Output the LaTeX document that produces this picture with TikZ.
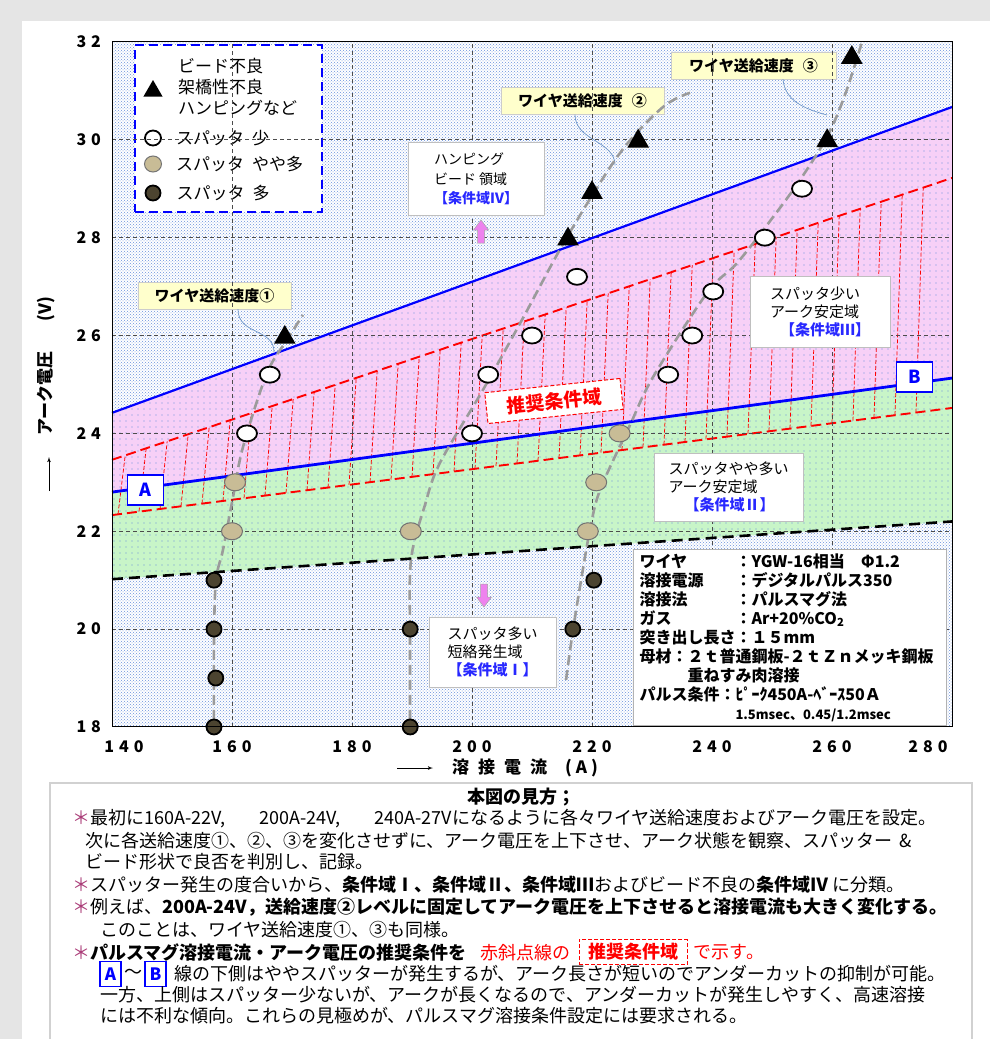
\documentclass[tikz,border=0pt]{standalone}
\usepackage{fontspec}
\setmainfont{Noto Sans CJK JP}
\usepackage{tikz}
\usetikzlibrary{shapes,arrows,positioning,patterns}

\definecolor{pinkzone}{RGB}{247,208,247}
\definecolor{greenzone}{RGB}{200,245,200}
\definecolor{dotblue}{RGB}{105,145,220}
\definecolor{tanfill}{RGB}{200,188,150}
\definecolor{darkfill}{RGB}{76,68,48}
\definecolor{callfill}{RGB}{255,255,204}
\definecolor{callblue}{RGB}{110,150,200}
\definecolor{arrowpink}{RGB}{238,130,238}
\definecolor{starmark}{RGB}{170,60,120}
\definecolor{curvegray}{RGB}{155,155,155}
\definecolor{tagblue}{RGB}{40,40,255}

\pgfdeclarepatternformonly{sparsedots}{\pgfqpoint{-1pt}{-1pt}}{\pgfqpoint{1pt}{1pt}}{\pgfqpoint{6pt}{6pt}}%
  {\pgfpathcircle{\pgfqpoint{0pt}{0pt}}{0.6pt}\pgfusepath{fill}}

\newcommand{\zonetag}[1]{{\color{tagblue}\bfseries #1}}
\newcommand{\starmk}{\textcolor{starmark}{＊}}
\newcommand{\gap}{\hspace{5pt}}

\begin{document}
\begin{tikzpicture}[x=1pt,y=-1pt,>=latex',
  gridline/.style={black!70,line width=0.7pt,dash pattern=on 4pt off 3pt},
  zoneline/.style={blue,line width=2.2pt},
  recline/.style={red,line width=1.9pt,dash pattern=on 10pt off 5pt},
  hatchline/.style={red,line width=0.75pt,dash pattern=on 4pt off 2pt},
  limitline/.style={black,line width=2.6pt,dash pattern=on 11pt off 6pt},
  wirecurve/.style={curvegray,line width=2.6pt,dash pattern=on 10pt off 5pt},
  callbox/.style={draw=black!20,fill=callfill,minimum height=27pt,inner sep=0pt,font=\fontsize{15}{18}\selectfont\bfseries},
  callline/.style={callblue,line width=0.7pt},
  zonebox/.style={draw=black!25,line width=1pt,fill=white,align=left,inner sep=0pt,font=\fontsize{15}{18}\selectfont},
  spatlow/.style={ellipse,draw=black,line width=1.8pt,fill=white,minimum width=20pt,minimum height=16pt,inner sep=0pt},
  spatmid/.style={ellipse,draw=black!55,line width=1pt,fill=tanfill,minimum width=21pt,minimum height=17pt,inner sep=0pt},
  spathigh/.style={circle,draw=black,line width=1.8pt,fill=darkfill,minimum size=15pt,inner sep=0pt},
  badbead/.style={regular polygon,regular polygon sides=3,fill=black,minimum size=25pt,inner sep=0pt},
  keybox/.style={draw=blue,line width=1.8pt,fill=white,text=blue,font=\fontsize{18}{18}\selectfont\bfseries,minimum width=36pt,minimum height=30pt,inner sep=0pt},
  keysmall/.style={draw=blue,line width=1.6pt,fill=white,text=blue,font=\fontsize{17}{17}\selectfont\bfseries,minimum width=21pt,minimum height=25pt,inner sep=0pt},
  ticklab/.style={font=\fontsize{16}{16}\selectfont\bfseries,inner sep=0pt},
  legtext/.style={anchor=west,align=left,inner sep=0pt,font=\fontsize{17}{21}\selectfont},
  note/.style={anchor=west,inner sep=0pt,font=\fontsize{18}{21}\selectfont}]

\useasboundingbox (0,0) rectangle (990,1039);
\fill[black!10] (0,0) rectangle (990,1039);
\fill[white] (22,21) rectangle (990,1039);

% zones of the chart (A in amperes, V in volts)
\begin{scope}[shift={(-728pt,-1607.7pt)},x=6pt,y=48.93pt]
  \coordinate (ub0) at (140,24.42); \coordinate (ub1) at (280,30.67);
  \coordinate (lb0) at (140,22.8);  \coordinate (lb1) at (280,25.13);
  \coordinate (kd0) at (140,21.02); \coordinate (kd1) at (280,22.2);
  \coordinate (ru0) at (140,23.46); \coordinate (ru1) at (280,29.22);
  \coordinate (rl0) at (140,22.33); \coordinate (rl1) at (280,24.52);
  \fill[white] (140,18) rectangle (280,32);
  \fill[pattern=crosshatch dots,pattern color=dotblue] (140,18) rectangle (280,32);
  \fill[pinkzone] (ub0) -- (ub1) -- (lb1) -- (lb0) -- cycle;
  \fill[greenzone] (lb0) -- (lb1) -- (kd1) -- (kd0) -- cycle;
  \fill[pattern=sparsedots,pattern color=dotblue] (ub0) -- (ub1) -- (kd1) -- (kd0) -- cycle;
  % hatching of the recommended zone
  \foreach \cur in {141,144.5,...,277}
    \draw[hatchline] (\cur,{22.33+(\cur-140)*0.015643}) -- ({\cur+1.2},{23.46+(\cur-138.8)*0.041143});
  \draw[recline] (rl0) -- (rl1);
  \draw[recline] (ru0) -- (ru1);
\end{scope}

% legend
\node[draw=blue,line width=2pt,dash pattern=on 9pt off 5pt,fill=white,minimum width=187pt,minimum height=167pt] (legend) at (228.5,128.5) {};
\node[badbead,minimum size=22pt] (legbad) at (153,91) {};
\node[legtext] (legbadtxt) at (178,87) {ビード不良\\架橋性不良\\ハンピングなど};
\node[spatlow,minimum width=16pt,minimum height=15pt] (leglow) at (153,138) {};
\node[legtext,right=14pt of leglow] (leglowtxt) {スパッタ\hspace{8pt}少};
\node[spatmid,minimum width=17pt,minimum height=16pt] (legmid) at (153,164) {};
\node[legtext,right=14pt of legmid] (legmidtxt) {スパッタ\hspace{8pt}やや多};
\node[spathigh] (leghigh) at (153,193) {};
\node[legtext,right=15pt of leghigh] (leghightxt) {スパッタ\hspace{8pt}多};

% wire feed speed callouts
\node[callbox,minimum width=153pt] (wsp1) at (214.5,295.5) {ワイヤ送給速度①};
\node[callbox,minimum width=163pt] (wsp2) at (582.5,101) {ワイヤ送給速度\hspace{9pt}②};
\node[callbox,minimum width=165pt] (wsp3) at (753.5,65.5) {ワイヤ送給速度\hspace{9pt}③};
\coordinate (wtip1) at (274,352);
\coordinate (wtip2) at (615,165);
\coordinate (wtip3) at (827,115);
\draw[callline] ([xshift=23.5pt]wsp1.south) .. controls +(0,26) and +(0,-24) .. (wtip1);
\draw[callline] ([xshift=-7.5pt]wsp2.south) .. controls +(0,26) and +(0,-24) .. (wtip2);
\draw[callline] ([xshift=29.5pt]wsp3.south) .. controls +(2,22) and +(-22,-6) .. (wtip3);

\begin{scope}[shift={(-728pt,-1607.7pt)},x=6pt,y=48.93pt]
  % grid
  \foreach \cur in {160,180,...,260}
    \draw[gridline] (\cur,18) -- (\cur,32);
  \foreach \cur in {20,22,...,30}
    \draw[gridline] (140,\cur) -- (280,\cur);
  \draw[zoneline] (ub0) -- (ub1);
  \draw[zoneline,line width=2.8pt] (lb0) -- (lb1);
  \draw[limitline] (kd0) -- (kd1);
  % wire feed speeds 1, 2, 3
  \draw[wirecurve] plot[smooth,tension=0.55] coordinates {(157,17.84) (157,19.78) (157.33,21.0) (158.5,21.62) (160.17,22.7) (161.83,23.72) (165.83,25.23) (169.17,25.91) (171.83,26.42)};
  \draw[wirecurve] plot[smooth,tension=0.55] coordinates {(189.67,17.84) (189.67,19.78) (189.83,21.41) (192.17,22.54) (194.67,23.4) (201.83,24.89) (208.33,26.32) (215.83,28.01) (224.67,29.73) (231.83,30.67) (236.33,30.96)};
  \draw[wirecurve] plot[smooth,tension=0.55] coordinates {(215.67,18.96) (216.83,19.98) (218.33,21.11) (219.67,22.03) (221.33,22.84) (226.33,24.17) (230.17,25.15) (239.17,26.87) (244.17,27.48) (250.17,28.42) (254.67,29.18) (259.17,30.06) (262.17,30.92) (265,32)};
  % measured points
  \foreach \p/\q [count=\i] in {162.5/24,166.3/25.2,200/24,202.7/25.2,210/26,217.5/27.2,232.7/25.2,236.7/26,240.2/26.9,248.8/28,255/29}
    \node[spatlow] (low\i) at (\p,\q) {};
  \foreach \p/\q [count=\i] in {160/22,160.5/23,189.8/22,219.3/22,220.7/23,224.6/24}
    \node[spatmid] (mid\i) at (\p,\q) {};
  \foreach \p/\q [count=\i] in {157/18,157.3/19,157/20,157/21,189.7/18,189.7/20,216.8/20,220.3/21}
    \node[spathigh] (high\i) at (\p,\q) {};
  \foreach \p/\q [count=\i] in {168.8/25.96,216/27.97,220/28.92,227.7/29.97,259.2/29.98,263.3/31.68}
    \node[badbead] (bad\i) at (\p,\q) {};
  \draw[black,line width=1pt] (140,18) rectangle (280,32);
  % axis numbers
  \foreach \cur/\txt in {18/1\gap 8,20/2\gap 0,22/2\gap 2,24/2\gap 4,26/2\gap 6,28/2\gap 8,30/3\gap 0,32/3\gap 2}
    \node[ticklab,anchor=east] (ylab\cur) at (138.2,\cur) {\txt};
  \foreach \cur/\pos/\txt in {140/142/1\gap 4\gap 0,160/160/1\gap 6\gap 0,180/180/1\gap 8\gap 0,200/200/2\gap 0\gap 0,220/220/2\gap 2\gap 0,240/240/2\gap 4\gap 0,260/260/2\gap 6\gap 0,280/276/2\gap 8\gap 0}
    \node[ticklab] (xlab\cur) at (\pos,17.59) {\txt};
\end{scope}

% zone labels
\node[zonebox,minimum width=136pt,minimum height=73pt,font=\fontsize{14}{19.5}\selectfont] (zone4) at (476,179) {ハンピング\\ビード 領域\\\zonetag{【条件域Ⅳ】}};
\node[zonebox,minimum width=140pt,minimum height=71pt] (zone3) at (820,311.5) {スパッタ少い\\アーク安定域\\\hspace{10pt}\zonetag{【条件域Ⅲ】}};
\node[zonebox,minimum width=149pt,minimum height=68pt] (zone2) at (728.5,487) {スパッタやや多い\\アーク安定域\\\hspace{16pt}\zonetag{【条件域Ⅱ】}};
\node[zonebox,minimum width=127pt,minimum height=70pt] (zone1) at (492.5,652) {スパッタ多い\\短絡発生域\\\zonetag{【条件域Ⅰ】}};
\node[draw=red,dash pattern=on 4pt off 2pt,line width=1pt,fill=white,text=red,font=\fontsize{19}{19}\selectfont\bfseries,minimum width=136pt,minimum height=31pt,inner sep=0pt,rotate=6] (reczone) at (554,401) {推奨条件域};
\node[keybox] (keyA) at (145.5,490) {A};
\node[keybox] (keyB) at (914.5,377) {B};

% pink arrows
\coordinate (uparrow) at (481,243);
\coordinate (downarrow) at (484,584);
\filldraw[fill=arrowpink,draw=black!35,line width=0.5pt] (uparrow) ++(-3.5,0) -- ++(0,-13) -- ++(-4,0) -- ++(7.5,-10) -- ++(7.5,10) -- ++(-4,0) -- ++(0,13) -- cycle;
\filldraw[fill=arrowpink,draw=black!35,line width=0.5pt] (downarrow) ++(-3.5,0) -- ++(0,13) -- ++(-4,0) -- ++(7.5,10) -- ++(7.5,-10) -- ++(-4,0) -- ++(0,-13) -- cycle;

% welding conditions
\node[draw=black!30,line width=1pt,fill=white,anchor=north west,minimum width=313pt,minimum height=176pt,text width=301pt,align=left,inner xsep=6pt,inner ysep=0pt,font=\fontsize{16}{19}\selectfont\bfseries] (spec) at (633,549)
  {\makebox[6em][l]{ワイヤ}：YGW-16相当　Φ1.2\\
   \makebox[6em][l]{溶接電源}：デジタルパルス350\\
   \makebox[6em][l]{溶接法}：パルスマグ法\\
   \makebox[6em][l]{ガス}：Ar+20\%CO\textsubscript{2}\\
   突き出し長さ：１５mm\\
   母材：２ｔ普通鋼板-２ｔＺｎメッキ鋼板\\
   \hspace{3em}重ねすみ肉溶接\\
   パルス条件：ﾋﾟｰｸ450A-ﾍﾞｰｽ50Ａ\\
   \hspace{6em}{\fontsize{13}{19}\selectfont 1.5msec、0.45/1.2msec}};

% axis titles
\coordinate (yaxtail) at (49,491);
\coordinate (yaxhead) at (49,457);
\draw[->,line width=0.8pt] (yaxtail) -- (yaxhead);
\node[rotate=90,inner sep=0pt,font=\fontsize{17}{17}\selectfont\bfseries] (ytitle) at (46,366) {アーク電圧\hspace{30pt}(V)};
\coordinate (xaxtail) at (397,768);
\coordinate (xaxhead) at (433,768);
\draw[->,line width=0.8pt] (xaxtail) -- (xaxhead);
\node[anchor=west,inner sep=0pt,font=\fontsize{17}{17}\selectfont\bfseries] (xtitle) at (452,768) {溶\hspace{9pt}接\hspace{9pt}電\hspace{9pt}流\hspace{18pt}(\hspace{4pt}A\hspace{4pt})};

% how to read the chart
\draw[black!18,line width=1.5pt,fill=white] (50,783) rectangle (972,1045);
\node[inner sep=0pt,font=\fontsize{18}{18}\selectfont\bfseries] (howto) at (521,797) {本図の見方；};
\node[note] (l1) at (72,819) {\starmk 最初に160A-22V,\hspace{34pt}200A-24V,\hspace{34pt}240A-27Vになるように各々ワイヤ送給速度およびアーク電圧を設定。};
\node[note] (l2) at (85,841) {次に各送給速度①、②、③を変化させずに、アーク電圧を上下させ、アーク状態を観察、スパッター\hspace{7pt}\&};
\node[note] (l3) at (85,862) {ビード形状で良否を判別し、記録。};
\node[note] (l4) at (72,885) {\starmk スパッター発生の度合いから、\textbf{条件域Ⅰ、条件域Ⅱ、条件域Ⅲ}およびビード不良の\textbf{条件域Ⅳ} に分類。};
\node[note] (l5) at (72,907) {\starmk 例えば、\textbf{200A-24V，送給速度②レベルに固定してアーク電圧を上下させると溶接電流も大きく変化する。}};
\node[note] (l6) at (100,930) {このことは、ワイヤ送給速度①、③も同様。};
\node[note] (l7a) at (72,952) {\starmk\textbf{パルスマグ溶接電流・アーク電圧の推奨条件を}\hspace{14pt}\textcolor{red}{赤斜点線の}};
\node[draw=red,dash pattern=on 4pt off 2pt,line width=1pt,text=red,inner xsep=9pt,inner ysep=4pt,font=\fontsize{18}{18}\selectfont\bfseries,right=8pt of l7a] (l7b) {推奨条件域};
\node[note,text=red,right=6pt of l7b] (l7c) {で示す。};
\node[keysmall] (la) at (110.5,974) {A};
\node[note,right=2pt of la] (tilde) {～};
\node[keysmall,right=2pt of tilde] (lb) {B};
\node[note,right=7pt of lb] (l8) {線の下側はややスパッターが発生するが、アーク長さが短いのでアンダーカットの抑制が可能。};
\node[note] (l9) at (100,995) {一方、上側はスパッター少ないが、アークが長くなるので、アンダーカットが発生しやすく、高速溶接};
\node[note] (l10) at (100,1016) {には不利な傾向。これらの見極めが、パルスマグ溶接条件設定には要求される。};
\end{tikzpicture}
\end{document}
